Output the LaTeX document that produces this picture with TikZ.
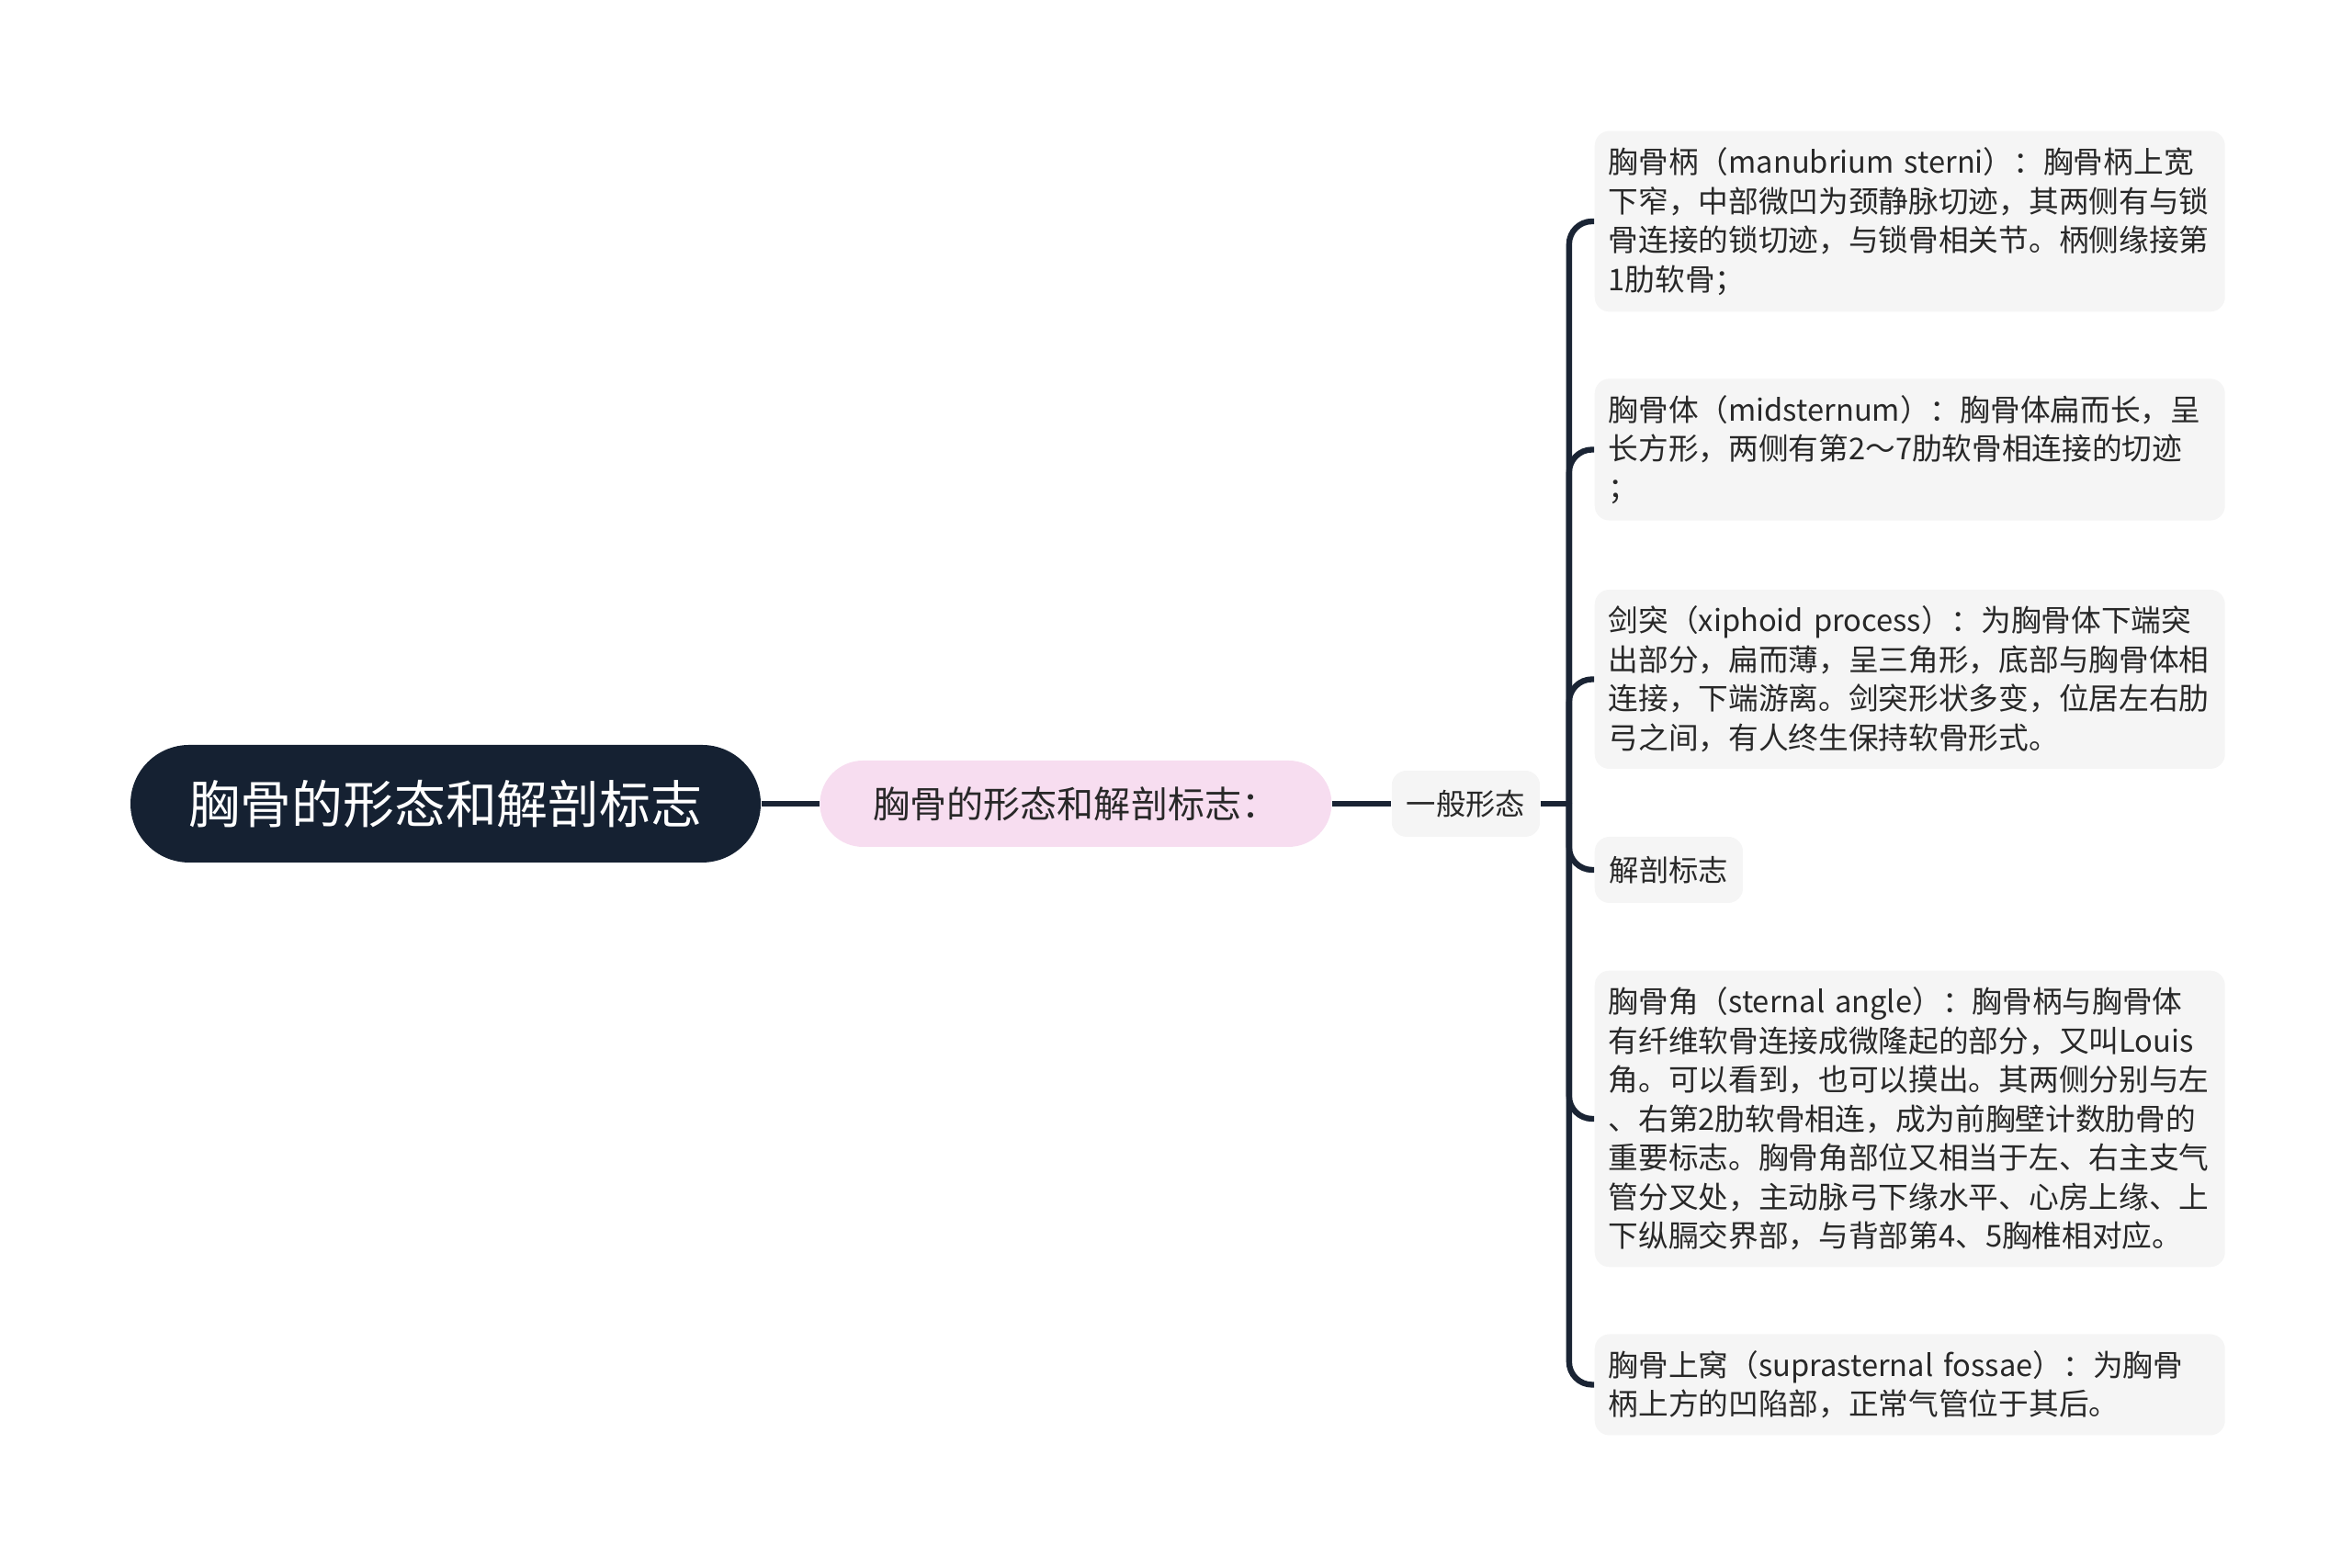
\documentclass[tikz,border=0pt]{standalone}
\usepackage{fontspec}
\newfontfamily\cjkfont{Noto Sans CJK SC}
\usetikzlibrary{positioning}
\definecolor{rootblue}{RGB}{21,33,50}
\definecolor{linecol}{RGB}{26,36,52}
\definecolor{pinkfill}{RGB}{247,221,240}
\definecolor{leaffill}{RGB}{245,245,245}
\definecolor{leaftext}{RGB}{40,40,40}

\begin{document}
\begin{tikzpicture}[
  node distance=0.63cm and 0.63cm,
  rootnode/.style={fill=rootblue,text=white,rounded corners=0.64cm,minimum width=6.86cm,minimum height=1.28cm,inner sep=0pt,font=\cjkfont\fontsize{15.9pt}{19pt}\selectfont},
  subnode/.style={fill=pinkfill,text=leaftext,rounded corners=0.47cm,minimum width=5.57cm,minimum height=0.94cm,inner sep=0pt,font=\cjkfont\fontsize{11.4pt}{14pt}\selectfont},
  smallnode/.style={fill=leaffill,text=leaftext,rounded corners=0.16cm,inner xsep=0.16cm,minimum height=0.72cm,font=\cjkfont\fontsize{9.2pt}{12pt}\selectfont},
  leafnode/.style={fill=leaffill,text=leaftext,rounded corners=0.16cm,inner xsep=0.15cm,inner ysep=0.18cm,text width=6.56cm,align=left,font=\cjkfont\fontsize{9.3pt}{12.1pt}\selectfont},
  conn/.style={draw=linecol,line width=1.8pt}
]
\useasboundingbox (0,0) rectangle (25.6,17.07);

\node[rootnode] (root) at (4.85,8.32) {胸骨的形态和解剖标志};
\node[subnode,right=of root] (sub) {胸骨的形态和解剖标志：};
\node[smallnode,right=0.64cm of sub] (form) {一般形态};
\coordinate[right=0.31cm of form] (fork);

% leaves
\node[leafnode,anchor=west] (manub) at (17.35,14.66) {胸骨柄（manubrium sterni）：胸骨柄上宽\\
下窄，中部微凹为颈静脉切迹，其两侧有与锁\\
骨连接的锁切迹，与锁骨相关节。柄侧缘接第\\
1肋软骨；};
\node[leafnode,anchor=west] (body) at (17.35,12.175) {胸骨体（midsternum）：胸骨体扁而长，呈\\
长方形，两侧有第2～7肋软骨相连接的切迹\\
；};
\node[leafnode,anchor=west] (xiph) at (17.35,9.675) {剑突（xiphoid process）：为胸骨体下端突\\
出部分，扁而薄，呈三角形，底部与胸骨体相\\
连接，下端游离。剑突形状多变，位居左右肋\\
弓之间，有人终生保持软骨形式。};
\node[smallnode,anchor=west] (mark) at (17.35,7.60) {解剖标志};
\node[leafnode,anchor=west] (angle) at (17.35,4.89) {胸骨角（sternal angle）：胸骨柄与胸骨体\\
有纤维软骨连接成微隆起的部分，又叫Louis\\
角。可以看到，也可以摸出。其两侧分别与左\\
、右第2肋软骨相连，成为前胸壁计数肋骨的\\
重要标志。胸骨角部位又相当于左、右主支气\\
管分叉处，主动脉弓下缘水平、心房上缘、上\\
下纵膈交界部，与背部第4、5胸椎相对应。};
\node[leafnode,anchor=west] (fossa) at (17.35,1.995) {胸骨上窝（suprasternal fossae）：为胸骨\\
柄上方的凹陷部，正常气管位于其后。};

\path (root) edge[conn] (sub);
\path (sub) edge[conn] (form);
\draw[conn] (form.east) -- (fork);
\foreach \leaf in {manub,body,xiph,mark,angle,fossa}
  \draw[conn,rounded corners=0.25cm] (fork) |- (\leaf.west);

\end{tikzpicture}
\end{document}
